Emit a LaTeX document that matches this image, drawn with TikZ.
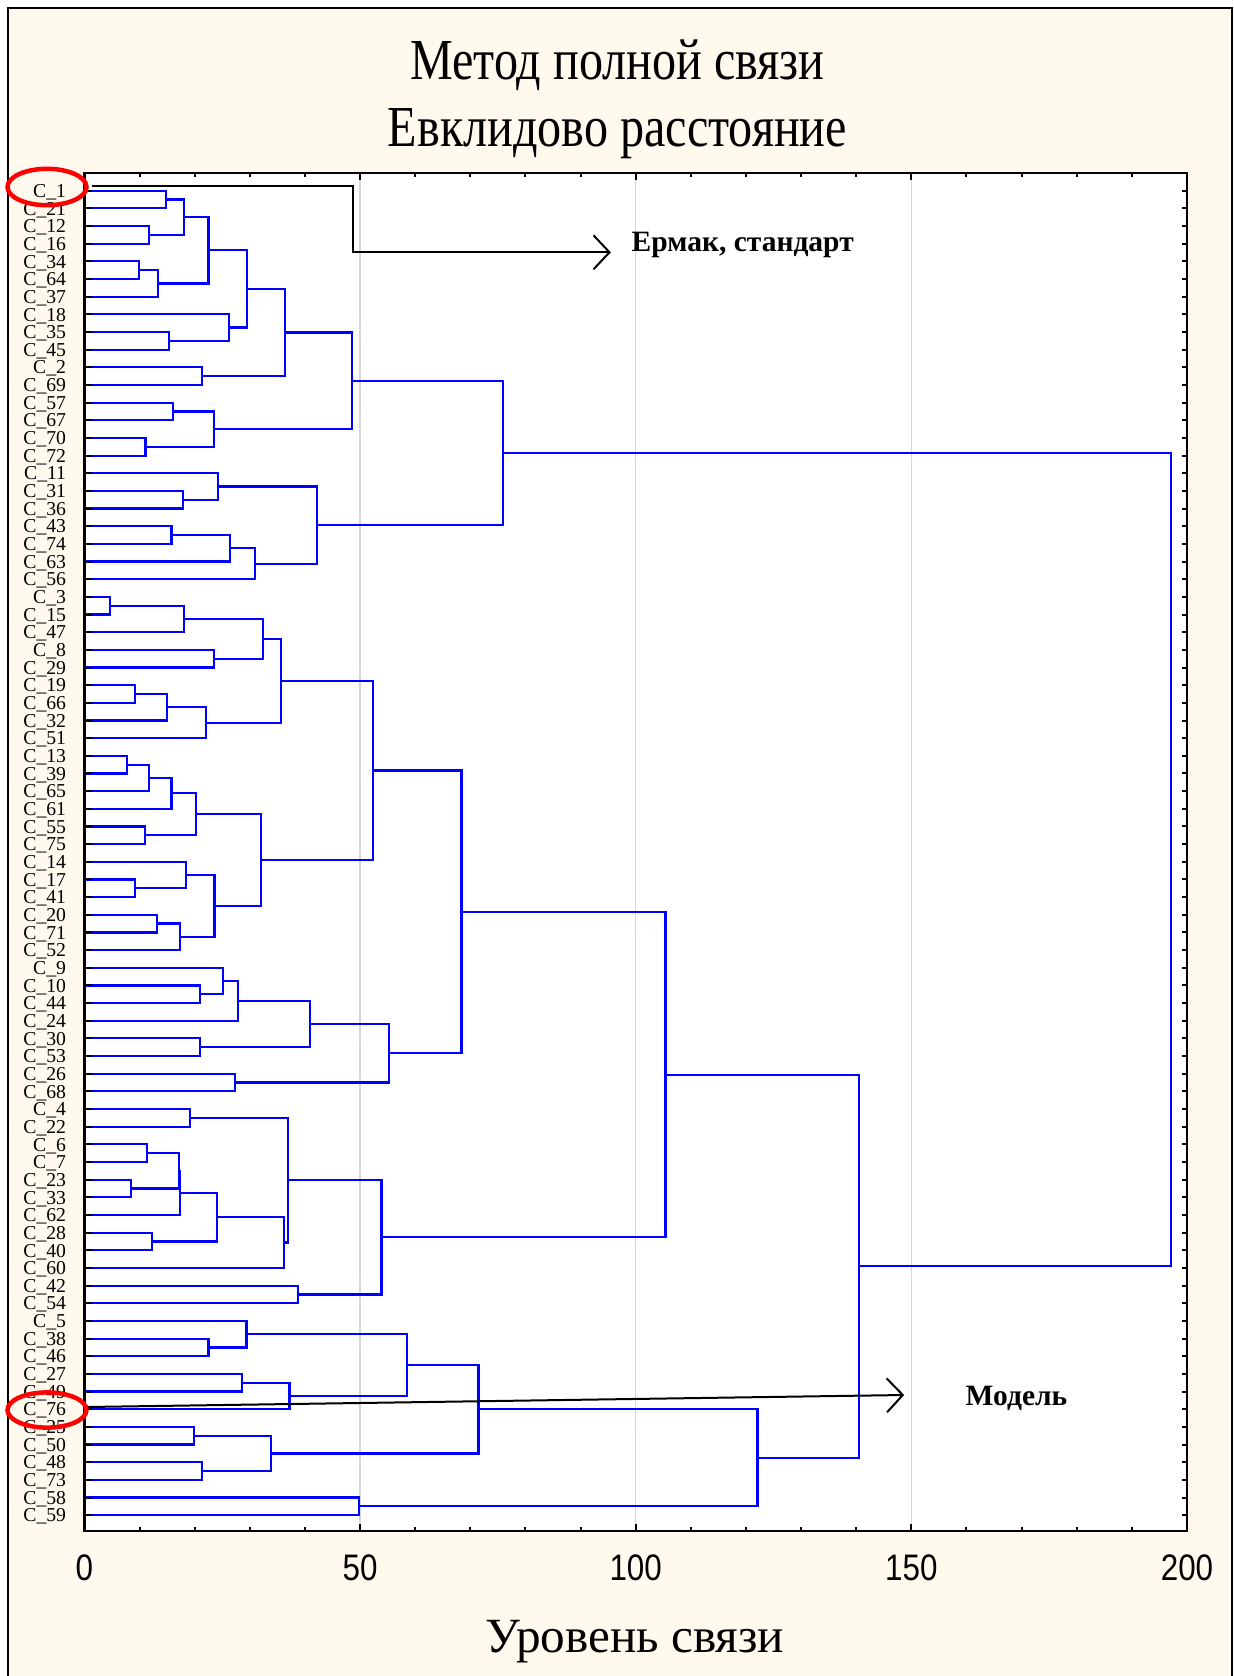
\documentclass[tikz,border=0pt]{standalone}
\usepackage{fontspec}
\setmainfont{Liberation Serif}
\newfontfamily\axisfont{Liberation Sans}
\usetikzlibrary{calc,arrows.meta}

\definecolor{cream}{RGB}{255,249,238}
\definecolor{dendro}{RGB}{0,0,255}
\definecolor{gridgray}{RGB}{214,214,214}

\tikzstyle{link} = [draw=dendro, line width=0.22mm]
\tikzstyle{tickline} = [draw=black, line width=0.2mm]
\tikzstyle{leaflabel} = [anchor=base east, inner sep=0pt, font=\fontsize{5.6}{6}\selectfont]
\tikzstyle{axisnum} = [anchor=base, inner sep=0pt, font=\axisfont\fontsize{10.5}{12}\selectfont]
\tikzstyle{titletext} = [anchor=base, inner sep=0pt, font=\fontsize{16.5}{19}\selectfont]
\tikzstyle{notetext} = [anchor=base west, inner sep=0pt, font=\fontsize{8.4}{10}\selectfont\bfseries]
\tikzstyle{note} = [draw=black, line width=0.2mm, -{Straight Barb[length=1.6mm,width=3.4mm]}]
\tikzstyle{ring} = [draw=red, line width=0.45mm]

\newcommand{\joinat}[4]{%
  \coordinate (tmp) at ($(#2)!0.5!(#3)$);
  \coordinate (#1) at (tmp -| #4,0);
  \draw[link] (#2) -| (#1) |- (#3);
}

\begin{document}
\begin{tikzpicture}[x=0.1mm, y=-0.1mm]
  \useasboundingbox (0,0) rectangle (1233,1676);
  \fill[cream] (7.5,8) rectangle (1232,1676);
  \draw[line width=0.2mm] (7.5,1676) -- (7.5,8) -- (1232,8) -- (1232,1676);

  \node[titletext] (title1) at (617.5,80) {\scalebox{0.83}[1]{Метод полной связи}};
  \node[titletext] (title2) at (617.5,146.4) {\scalebox{0.83}[1]{Евклидово расстояние}};

  \begin{scope}[shift={(84.4,0)}, x=0.5513mm, y=-0.1mm]
    \fill[white] (0,173) rectangle (200,1531);
    \foreach \v in {50,100,150}
      \draw[gridgray, line width=0.15mm] (\v,173) -- (\v,1531);

    \foreach \lab [count=\i from 0] in {1,21,12,16,34,64,37,18,35,45,2,69,57,67,70,72,11,31,36,43,74,63,56,3,15,47,8,29,19,66,32,51,13,39,65,61,55,75,14,17,41,20,71,52,9,10,44,24,30,53,26,68,4,22,6,7,23,33,62,28,40,60,42,54,5,38,46,27,49,76,25,50,48,73,58,59} {
      \coordinate (c\lab) at (0,190.7+17.66*\i);
      \node[leaflabel] (n\lab) at (-3.2,197.4+17.66*\i) {C\_\lab};
    }

    \joinat{m1}{c1}{c21}{14.8}
    \joinat{m2}{c12}{c16}{11.7}
    \joinat{m3}{m1}{m2}{18.0}
    \joinat{m4}{c34}{c64}{9.9}
    \joinat{m5}{m4}{c37}{13.3}
    \joinat{m6}{m3}{m5}{22.5}
    \joinat{m7}{c35}{c45}{15.4}
    \joinat{m8}{c18}{m7}{26.2}
    \joinat{m9}{m6}{m8}{29.5}
    \joinat{m10}{c2}{c69}{21.4}
    \joinat{m11}{m9}{m10}{36.4}
    \joinat{m12}{c57}{c67}{16.1}
    \joinat{m13}{c70}{c72}{11.1}
    \joinat{m14}{m12}{m13}{23.5}
    \joinat{m15}{m11}{m14}{48.6}
    \joinat{m16}{c31}{c36}{17.9}
    \joinat{m17}{c11}{m16}{24.3}
    \joinat{m18}{c43}{c74}{15.8}
    \joinat{m19}{m18}{c63}{26.4}
    \joinat{m20}{m19}{c56}{30.9}
    \joinat{m21}{m17}{m20}{42.2}
    \joinat{m22}{m15}{m21}{76.0}

    \joinat{m23}{c3}{c15}{4.65}
    \joinat{m24}{m23}{c47}{18.1}
    \joinat{m25}{c8}{c29}{23.5}
    \joinat{m26}{m24}{m25}{32.4}
    \joinat{m27}{c19}{c66}{9.2}
    \joinat{m28}{m27}{c32}{15.0}
    \joinat{m29}{m28}{c51}{22.1}
    \joinat{m30}{m26}{m29}{35.7}
    \joinat{m31}{c13}{c39}{7.7}
    \joinat{m32}{m31}{c65}{11.7}
    \joinat{m33}{m32}{c61}{15.8}
    \joinat{m34}{c55}{c75}{11.0}
    \joinat{m35}{m33}{m34}{20.3}
    \joinat{m36}{c17}{c41}{9.2}
    \joinat{m37}{c14}{m36}{18.4}
    \joinat{m38}{c20}{c71}{13.2}
    \joinat{m39}{m38}{c52}{17.3}
    \joinat{m40}{m37}{m39}{23.6}
    \joinat{m41}{m35}{m40}{32.0}
    \joinat{m42}{m30}{m41}{52.3}
    \joinat{m43}{c10}{c44}{21.0}
    \joinat{m44}{c9}{m43}{25.1}
    \joinat{m45}{m44}{c24}{27.9}
    \joinat{m46}{c30}{c53}{21.0}
    \joinat{m47}{m45}{m46}{40.9}
    \joinat{m48}{c26}{c68}{27.3}
    \joinat{m49}{m47}{m48}{55.2}
    \joinat{m50}{m42}{m49}{68.4}

    \joinat{m51}{c4}{c22}{19.2}
    \joinat{m52}{c6}{c7}{11.3}
    \joinat{m53}{c23}{c33}{8.45}
    \joinat{m54}{m52}{m53}{17.2}
    \joinat{m55}{m54}{c62}{17.4}
    \joinat{m56}{c28}{c40}{12.2}
    \joinat{m57}{m55}{m56}{24.0}
    \joinat{m58}{m57}{c60}{36.2}
    \joinat{m59}{m51}{m58}{36.9}
    \joinat{m60}{c42}{c54}{38.8}
    \joinat{m61}{m59}{m60}{53.9}
    \joinat{m62}{m50}{m61}{105.4}

    \joinat{m63}{c38}{c46}{22.5}
    \joinat{m64}{c5}{m63}{29.4}
    \joinat{m65}{c27}{c49}{28.6}
    \joinat{m66}{m65}{c76}{37.2}
    \joinat{m67}{m64}{m66}{58.5}
    \joinat{m68}{c25}{c50}{19.9}
    \joinat{m69}{c48}{c73}{21.4}
    \joinat{m70}{m68}{m69}{33.9}
    \joinat{m71}{m67}{m70}{71.5}
    \joinat{m72}{c58}{c59}{49.8}
    \joinat{m73}{m71}{m72}{122.1}
    \joinat{m74}{m62}{m73}{140.5}
    \joinat{m75}{m22}{m74}{197.1}

    \foreach \i in {0,...,75} {
      \draw[tickline] (0,190.7+17.66*\i) -- ++(1.3,0);
      \draw[tickline] (200,190.7+17.66*\i) -- ++(-0.9,0);
    }
    \foreach \v in {10,20,...,190} {
      \draw[tickline] (\v,173) -- ++(0,4);
      \draw[tickline] (\v,1531) -- ++(0,-4);
    }
    \foreach \v in {50,100,150} {
      \draw[tickline] (\v,173) -- ++(0,7);
      \draw[tickline] (\v,1531) -- ++(0,-7);
    }
    \draw[line width=0.22mm] (0,173) rectangle (200,1531);

    \foreach \v in {0,50,100,150,200}
      \node[axisnum] (t\v) at (\v,1580) {\scalebox{0.85}[1]{\v}};

    \coordinate (ermakstart) at (1.3,186);
    \coordinate (ermakbend) at (48.8,252.3);
    \coordinate (ermaktip) at (95.5,252.3);
    \draw[note] (ermakstart) -| (ermakbend) -- (ermaktip);
    \coordinate (modelstart) at (0.4,1407);
    \coordinate (modeltip) at (148.7,1395);
    \draw[note] (modelstart) -- (modeltip);
  \end{scope}

  \node[notetext] (ermak) at (631,251.7) {Ермак, стандарт};
  \node[notetext] (model) at (965,1405) {Модель};

  \node[titletext, font=\fontsize{14}{16}\selectfont] (xtitle) at (635,1652) {Уровень связи};

  \draw[ring] (47,187) ellipse [x radius=3.95mm, y radius=1.82mm];
  \draw[ring] (47,1410) ellipse [x radius=3.95mm, y radius=1.76mm];
\end{tikzpicture}
\end{document}
